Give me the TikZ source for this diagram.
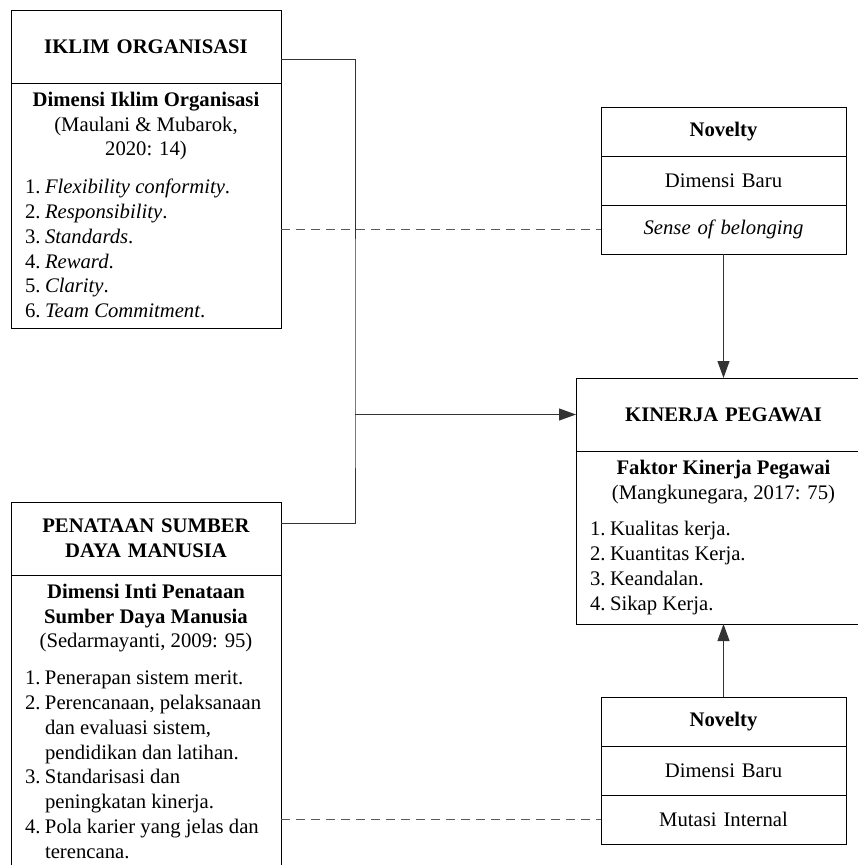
\documentclass[tikz,border=0pt]{standalone}
\usepackage{fontspec}
\setmainfont{Liberation Serif}
\usetikzlibrary{positioning,arrows.meta}

\newcommand{\numline}[2]{\hangindent=20pt\hangafter=1\noindent\makebox[20pt][l]{#1}#2\par}

\begin{document}
\begin{tikzpicture}[x=1pt,y=-1pt,
  every node/.style={draw, outer sep=0pt, inner sep=0pt, align=center,
    font=\fontsize{20.7}{24.8}\selectfont},
  head/.style={text width=#1, minimum height=73pt, font=\fontsize{20.7}{24.8}\selectfont\bfseries},
  cell/.style={text width=245pt, minimum height=49pt},
  link/.style={draw=black!80, line width=1pt},
  arrow/.style={link, -{Triangle[length=17pt,width=12pt]}},
  dashline/.style={draw=black!65, line width=1pt, dash pattern=on 9pt off 6pt}]
\useasboundingbox (0,0) rectangle (858,865);
\clip (0,0) rectangle (858,865);

% left column
\node[head=270pt] (iklimhead) at (146,46.5) {IKLIM ORGANISASI};
\node[below=0pt of iklimhead] (iklimbody) {\parbox[c][245pt][t]{270pt}{%
  \vspace*{9pt}\centering\textbf{Dimensi Iklim Organisasi}\\(Maulani \& Mubarok,\\2020: 14)\par
  \vspace{13pt}\raggedright\leftskip=14pt
  \numline{1.}{\textit{Flexibility conformity}.}
  \numline{2.}{\textit{Responsibility}.}
  \numline{3.}{\textit{Standards}.}
  \numline{4.}{\textit{Reward}.}
  \numline{5.}{\textit{Clarity}.}
  \numline{6.}{\textit{Team Commitment}.}}};

\node[head=270pt] (sdmhead) at (146,538.5) {PENATAAN SUMBER\\DAYA MANUSIA};
\node[below=0pt of sdmhead] (sdmbody) {\parbox[c][306pt][t]{270pt}{%
  \vspace*{9pt}\centering\textbf{Dimensi Inti Penataan}\\\textbf{Sumber Daya Manusia}\\(Sedarmayanti, 2009: 95)\par
  \vspace{12pt}\raggedright\leftskip=14pt
  \numline{1.}{Penerapan sistem merit.}
  \numline{2.}{Perencanaan, pelaksanaan\newline dan evaluasi sistem,\newline pendidikan dan latihan.}
  \numline{3.}{Standarisasi dan\newline peningkatan kinerja.}
  \numline{4.}{Pola karier yang jelas dan\newline terencana.}}};

% right column
\node[head=295pt] (kinerjahead) at (723.5,414.5) {KINERJA PEGAWAI};
\node[below=0pt of kinerjahead] (kinerjabody) {\parbox[c][173pt][t]{295pt}{%
  \vspace*{9pt}\centering\textbf{Faktor Kinerja Pegawai}\\(Mangkunegara, 2017: 75)\par
  \vspace{12pt}\raggedright\leftskip=14pt
  \numline{1.}{Kualitas kerja.}
  \numline{2.}{Kuantitas Kerja.}
  \numline{3.}{Keandalan.}
  \numline{4.}{Sikap Kerja.}}};

\node[cell, font=\fontsize{20.7}{24.8}\selectfont\bfseries] (novA1) at (723.5,131.5) {Novelty};
\node[cell, below=0pt of novA1] (novA2) {Dimensi Baru};
\node[cell, below=0pt of novA2] (novA3) {\textit{Sense of belonging}};

\node[cell, font=\fontsize{20.7}{24.8}\selectfont\bfseries] (novB1) at (723.5,721.5) {Novelty};
\node[cell, below=0pt of novB1] (novB2) {Dimensi Baru};
\node[cell, below=0pt of novB2] (novB3) {Mutasi Internal};

% connectors
\coordinate (bus) at (355,414.5);
\draw[link] ([yshift=-12.5pt]iklimhead.east) -| (bus) |- ([yshift=15.5pt]sdmhead.east);
\draw[arrow] (bus) -- (kinerjahead.west);
\draw[arrow] (novA3.south) -- (kinerjahead.north);
\draw[arrow] (novB1.north) -- (kinerjabody.south);
\draw[dashline] (iklimbody.east |- novA3.west) -- (novA3.west);
\draw[dashline] (sdmbody.east |- novB3.west) -- (novB3.west);
\end{tikzpicture}
\end{document}
